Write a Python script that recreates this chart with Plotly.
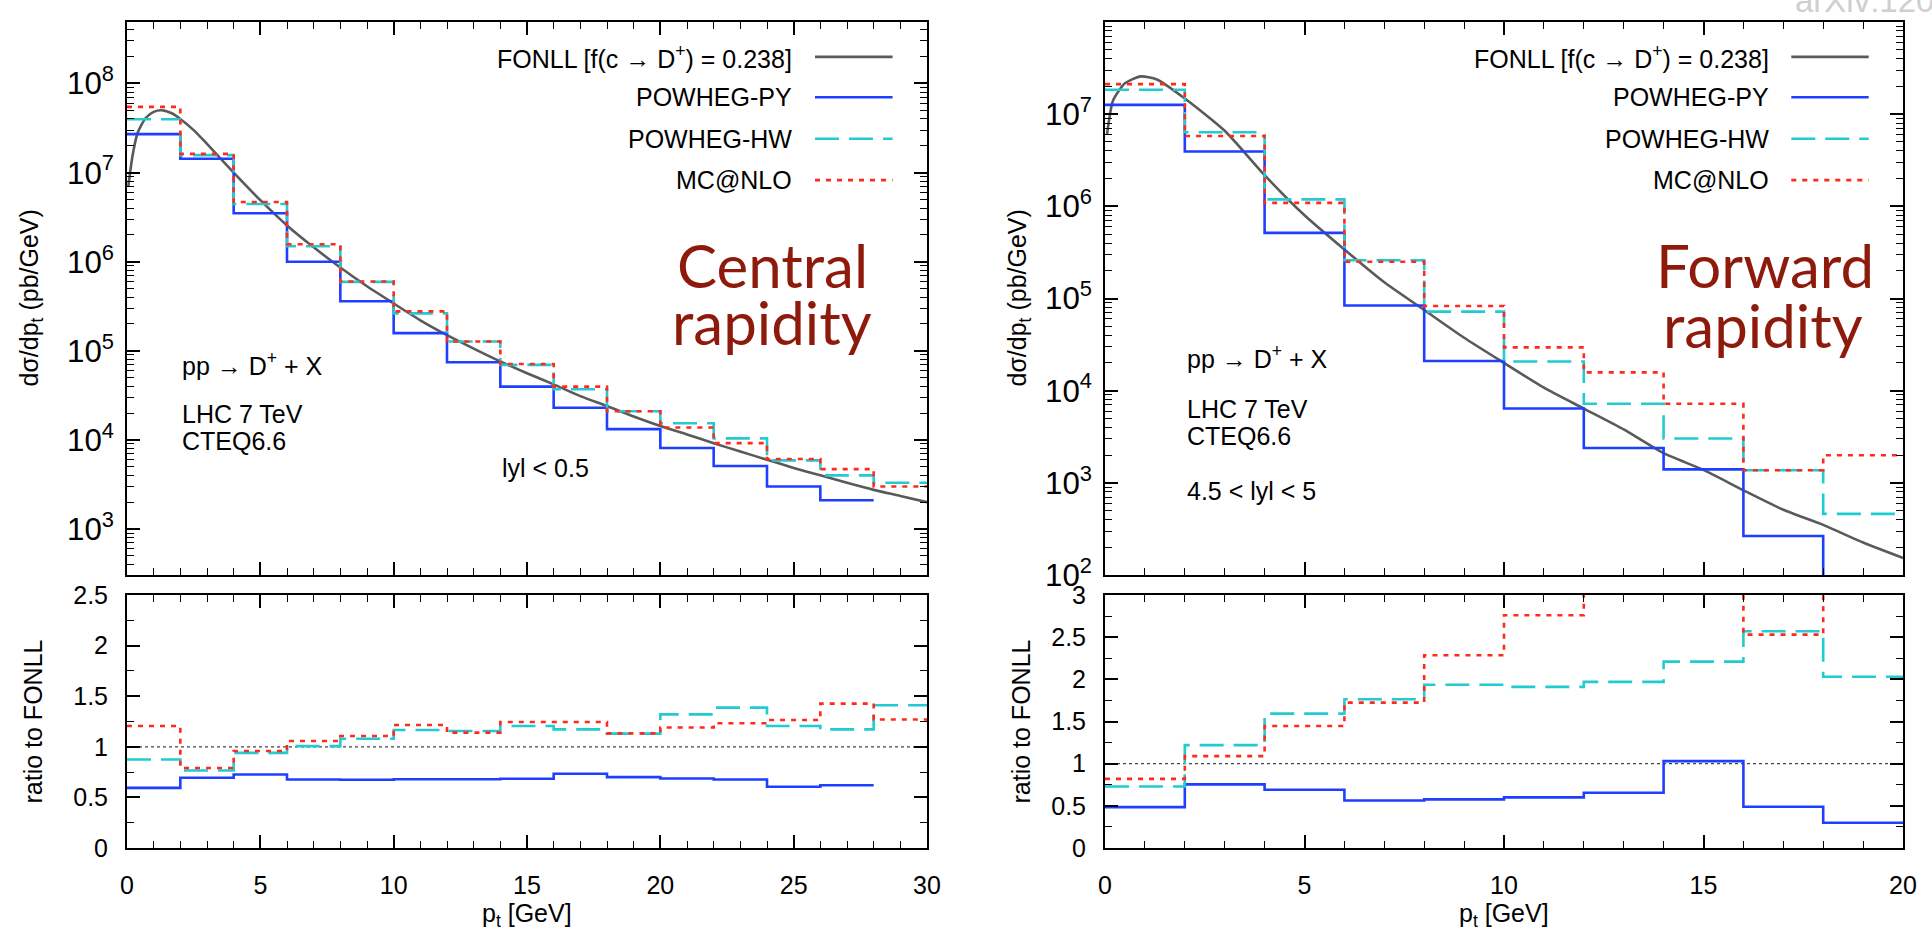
import plotly.graph_objects as go

# ---------------- data: central rapidity |y| < 0.5 ----------------
c_edges = [0, 2, 4, 6, 8, 10, 12, 14, 16, 18, 20, 22, 24, 26, 28, 30]
c_py = [2.7e7, 1.43e7, 3.5e6, 1.0e6, 3.6e5, 1.58e5, 7.45e4, 3.96e4, 2.3e4, 1.32e4,
        8.1e3, 5.1e3, 3.0e3, 2.1e3]
c_hw = [3.97e7, 1.57e7, 4.45e6, 1.49e6, 5.93e5, 2.63e5, 1.27e5, 6.96e4, 3.7e4, 2.1e4,
        1.54e4, 1.04e4, 5.9e3, 4.0e3, 3.3e3]
c_mc = [5.47e7, 1.62e7, 4.67e6, 1.57e6, 6.0e5, 2.77e5, 1.27e5, 7.1e4, 3.96e4, 2.1e4,
        1.38e4, 9.2e3, 6.1e3, 4.7e3, 3.0e3]
c_fonll_pt = [0.05, 0.2, 0.4, 0.7, 1.0, 1.3, 1.7, 2.0, 2.5, 3, 4, 5, 6, 7, 8, 9, 10, 11, 12,
              13, 14, 15, 16, 17, 18, 19, 20, 21, 22, 23, 24, 25, 26, 27, 28, 29, 30]
c_fonll = [7e6, 1.5e7, 2.8e7, 4.1e7, 4.8e7, 5.0e7, 4.6e7, 4.0e7, 3.0e7, 2.1e7, 1.0e7, 4.9e6,
           2.55e6, 1.45e6, 8.6e5, 5.3e5, 3.4e5, 2.2e5, 1.5e5, 1.06e5, 7.6e4, 5.6e4, 4.2e4,
           3.1e4, 2.4e4, 1.83e4, 1.43e4, 1.15e4, 9.2e3, 7.4e3, 6.0e3, 4.85e3, 4.0e3, 3.3e3,
           2.75e3, 2.35e3, 2.0e3]
c_r_py = [0.594, 0.694, 0.727, 0.677, 0.675, 0.68, 0.68, 0.685, 0.733, 0.70, 0.687, 0.677,
          0.605, 0.62]
c_r_hw = [0.875, 0.766, 0.94, 1.007, 1.08, 1.166, 1.156, 1.205, 1.172, 1.13, 1.32, 1.387,
          1.205, 1.172, 1.41]
c_r_mc = [1.205, 0.79, 0.958, 1.057, 1.106, 1.215, 1.14, 1.245, 1.245, 1.133, 1.19, 1.232,
          1.265, 1.427, 1.27]

# ---------------- data: forward rapidity 4.5 < |y| < 5 ----------------
f_edges = [0, 2, 4, 6, 8, 10, 12, 14, 16, 18, 20]
f_py = [1.26e7, 3.94e6, 5.15e5, 8.4e4, 2.1e4, 6.4e3, 2.39e3, 1.4e3, 2.65e2, 66]
f_hw = [1.84e7, 6.37e6, 1.19e6, 2.6e5, 7.2e4, 2.07e4, 7.2e3, 3.03e3, 1.37e3, 4.6e2]
f_mc = [2.12e7, 5.8e6, 1.09e6, 2.5e5, 8.3e4, 2.95e4, 1.58e4, 7.2e3, 1.37e3, 1.99e3]
f_fonll_pt = [0.05, 0.2, 0.5, 0.9, 1.3, 2, 3, 4, 5, 6, 7, 8, 9, 10, 11, 12, 13, 14, 15, 16,
              17, 18, 19, 20]
f_fonll = [6.0e6, 1.4e7, 2.16e7, 2.57e7, 2.38e7, 1.48e7, 6.6e6, 2.18e6, 8.0e5, 3.4e5, 1.5e5,
           7.5e4, 3.75e4, 2.0e4, 1.08e4, 6.4e3, 3.8e3, 2.1e3, 1.38e3, 8.3e2, 5.1e2, 3.5e2,
           2.25e2, 1.53e2]
f_r_py = [0.485, 0.755, 0.69, 0.564, 0.576, 0.60, 0.656, 1.03, 0.49, 0.30]
f_r_hw = [0.73, 1.22, 1.593, 1.764, 1.935, 1.91, 1.97, 2.21, 2.57, 2.03]
f_r_mc = [0.82, 1.09, 1.446, 1.724, 2.285, 2.76, 4.3, 5.3, 2.53, 9.0]

series_names = ["FONLL [f(c → D<sup>+</sup>) = 0.238]", "POWHEG-PY", "POWHEG-HW", "MC@NLO"]

# ---------------- styles ----------------
GRAY, BLUE, CYAN, RED = "#5a5a5a", "#1f3fff", "#22cbd2", "#ff2a1c"
DARKRED = "#8e1a0c"
LW = 2.6
DASH_HW = "24px,10px"
DASH_MC = "5px,6px"
FONT = "Liberation Sans, Arial, Helvetica, sans-serif"
styles = [dict(color=GRAY, width=LW, dash="solid"),
          dict(color=BLUE, width=LW, dash="solid"),
          dict(color=CYAN, width=LW, dash=DASH_HW),
          dict(color=RED, width=LW, dash=DASH_MC)]


def step(edges, vals):
    return edges[:len(vals) + 1], list(vals) + [vals[-1]]


fig = go.Figure()


def add_panel(xa, ya, edges, py, hw, mc, fpt=None, fval=None):
    if fpt is not None:
        fig.add_trace(go.Scatter(x=fpt, y=fval, mode="lines", line=dict(**styles[0], shape="spline", smoothing=0.6),
                                 xaxis=xa, yaxis=ya, showlegend=False, hoverinfo="skip"))
    for vals, st in ((py, styles[1]), (hw, styles[2]), (mc, styles[3])):
        x, y = step(edges, vals)
        fig.add_trace(go.Scatter(x=x, y=y, mode="lines", line=dict(**st, shape="hv"),
                                 xaxis=xa, yaxis=ya, showlegend=False, hoverinfo="skip"))


add_panel("x", "y", c_edges, c_py, c_hw, c_mc, c_fonll_pt, c_fonll)
add_panel("x2", "y2", c_edges, c_r_py, c_r_hw, c_r_mc)
add_panel("x3", "y3", f_edges, f_py, f_hw, f_mc, f_fonll_pt, f_fonll)
add_panel("x4", "y4", f_edges, f_r_py, f_r_hw, f_r_mc)

W, H = 1932, 934
LX = [127 / W, 927 / W]
RX = [1105 / W, 1903 / W]
TOPY = [1 - 575 / H, 1 - 22 / H]
BOTY = [1 - 848 / H, 1 - 595 / H]

tickfont = dict(family=FONT, size=25, color="black")


def xaxis(domain, rng, anchor, labels):
    return dict(domain=domain, range=rng, anchor=anchor, showline=True, linecolor="black", linewidth=2,
                mirror="ticks", ticks="inside", ticklen=13, tickwidth=1.5, tickcolor="black",
                tick0=0, dtick=5, minor=dict(ticks="inside", ticklen=7, tickwidth=1.2, dtick=1, tickcolor="black"),
                showticklabels=labels, tickfont=tickfont, showgrid=False, zeroline=False,
                ticklabelstandoff=14, automargin=False)


def yaxis_log(domain, rng, anchor):
    return dict(domain=domain, range=rng, anchor=anchor, type="log", showline=True, linecolor="black",
                linewidth=2, mirror="ticks", ticks="inside", ticklen=13, tickwidth=1.5, tickcolor="black",
                dtick=1, exponentformat="power", showexponent="all",
                minor=dict(ticks="inside", ticklen=7, tickwidth=1.2, dtick="D1", tickcolor="black"),
                tickfont=tickfont, showgrid=False, zeroline=False, ticklabelstandoff=6, automargin=False)


def yaxis_lin(domain, rng, anchor):
    return dict(domain=domain, range=rng, anchor=anchor, showline=True, linecolor="black", linewidth=2,
                mirror="ticks", ticks="inside", ticklen=13, tickwidth=1.5, tickcolor="black",
                tick0=0, dtick=0.5, minor=dict(ticks="inside", ticklen=7, tickwidth=1.2, dtick=0.25, tickcolor="black"),
                tickfont=tickfont, showgrid=False, zeroline=False, ticklabelstandoff=12, automargin=False)


fig.update_layout(
    width=W, height=H, margin=dict(l=0, r=0, t=0, b=0, pad=0), autosize=False,
    paper_bgcolor="white", plot_bgcolor="white", showlegend=False,
    xaxis=xaxis(LX, [0, 30], "y", False),
    yaxis=yaxis_log(TOPY, [2.484, 8.69], "x"),
    xaxis2=xaxis(LX, [0, 30], "y2", True),
    yaxis2=yaxis_lin(BOTY, [0, 2.5], "x2"),
    xaxis3=xaxis(RX, [0, 20], "y3", False),
    yaxis3=yaxis_log(TOPY, [2, 8], "x3"),
    xaxis4=xaxis(RX, [0, 20], "y4", True),
    yaxis4=yaxis_lin(BOTY, [0, 3], "x4"),
)

shapes = []
annotations = []

# reference line at ratio = 1
for xa, ya in (("x2", "y2"), ("x4", "y4")):
    shapes.append(dict(type="line", xref=f"{xa} domain", yref=ya, x0=0, x1=1, y0=1, y1=1,
                       line=dict(color="#444", width=1.3, dash="dot"), layer="below"))

# legends (text left of sample, gnuplot style)
leg_rows = [0.937, 0.864, 0.789, 0.714]
for xa, ya in (("x", "y"), ("x3", "y3")):
    for name, st, yy in zip(series_names, styles, leg_rows):
        annotations.append(dict(xref=f"{xa} domain", yref=f"{ya} domain", x=0.834, y=yy,
                                xanchor="right", yanchor="middle", text=name, showarrow=False,
                                font=dict(family=FONT, size=25, color="black")))
        shapes.append(dict(type="line", xref=f"{xa} domain", yref=f"{ya} domain", x0=0.86, x1=0.957,
                           y0=yy, y1=yy, line=dict(color=st["color"], width=st["width"], dash=st["dash"])))


def txt(xa, ya, x, y, text, size=25, color="black", anchor="left", family=FONT):
    annotations.append(dict(xref=xa, yref=f"{ya} domain", x=x, y=y, text=text, showarrow=False,
                            xanchor=anchor, yanchor="middle", font=dict(family=family, size=size, color=color)))


BIG = "Lato, sans-serif"
# left panel texts
txt("x", "y", 2.0, 0.381, "pp → D<sup>+</sup> + X")
txt("x", "y", 2.0, 0.291, "LHC 7 TeV")
txt("x", "y", 2.0, 0.243, "CTEQ6.6")
txt("x", "y", 14.0, 0.193, "lyl < 0.5")
txt("x", "y", 24.2, 0.560, "Central", size=60, color=DARKRED, anchor="center", family=BIG)
txt("x", "y", 24.2, 0.458, "rapidity", size=60, color=DARKRED, anchor="center", family=BIG)
# right panel texts
txt("x3", "y3", 2.0, 0.394, "pp → D<sup>+</sup> + X")
txt("x3", "y3", 2.0, 0.301, "LHC 7 TeV")
txt("x3", "y3", 2.0, 0.251, "CTEQ6.6")
txt("x3", "y3", 2.0, 0.152, "4.5 < lyl < 5")
txt("x3", "y3", 16.55, 0.560, "Forward", size=60, color=DARKRED, anchor="center", family=BIG)
txt("x3", "y3", 16.5, 0.452, "rapidity", size=60, color=DARKRED, anchor="center", family=BIG)


# axis titles
def ytitle(xpx, ydom, text):
    annotations.append(dict(xref="paper", yref="paper", x=xpx / W, y=(ydom[0] + ydom[1]) / 2, text=text,
                            textangle=-90, showarrow=False, xanchor="center", yanchor="middle",
                            font=dict(family=FONT, size=25, color="black")))


ytitle(30, TOPY, "dσ/dp<sub>t</sub> (pb/GeV)")
ytitle(32, BOTY, "ratio to FONLL")
ytitle(1018, TOPY, "dσ/dp<sub>t</sub> (pb/GeV)")
ytitle(1020, BOTY, "ratio to FONLL")

for xa, xc in (("x2", 15), ("x4", 10)):
    annotations.append(dict(xref=xa, yref="paper", x=xc, y=1 - 915 / H, text="p<sub>t</sub> [GeV]",
                            showarrow=False, xanchor="center", yanchor="middle",
                            font=dict(family=FONT, size=25, color="black")))

# faint arXiv stamp at top right (partly cut off)
annotations.append(dict(xref="paper", yref="paper", x=1793 / W, y=1.0, yshift=-21, text="arXiv:1205.6344",
                        showarrow=False, xanchor="left", yanchor="bottom",
                        font=dict(family=FONT, size=33, color="#cfcfcf")))

fig.update_layout(shapes=shapes, annotations=annotations)

fig.write_html("out.html", config={"displayModeBar": False},
               post_script="document.body.style.margin='0';")
